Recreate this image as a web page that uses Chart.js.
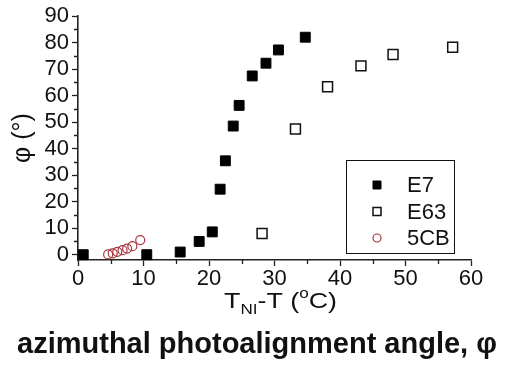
<!DOCTYPE html>
<html>
<head>
<meta charset="utf-8">
<script src="https://cdn.jsdelivr.net/npm/chart.js@4.4.1/dist/chart.umd.min.js"></script>
<style>
  html, body { margin: 0; padding: 0; background: #fff; }
  canvas { display: block; }
</style>
</head>
<body>
<canvas id="phiChart" width="510" height="372"></canvas>
<script>
	// data
	const e7X  = [0.8, 10.5, 15.6, 18.5, 20.5, 21.7, 22.5, 23.7, 24.6, 26.6, 28.7, 30.6, 34.7];
	const e7Y  = [0, 0, 1, 5, 8.6, 24.7, 35.4, 48.5, 56.3, 67.4, 72.2, 77.2, 82];
	const e63X = [28.1, 33.2, 38.1, 43.2, 48.1, 57.2];
	const e63Y = [8, 47.4, 63.3, 71.2, 75.5, 78.2];
	const cbX  = [4.6, 5.3, 6.0, 6.8, 7.5, 8.3, 9.5];
	const cbY  = [0.1, 0.5, 1.1, 1.7, 2.3, 3.2, 5.5];
	const seriesNames = ['E7', 'E63', '5CB'];
	const xTicks = [0, 10, 20, 30, 40, 50, 60];
	const yTicks = [0, 10, 20, 30, 40, 50, 60, 70, 80, 90];
	const xMinor = [5, 15, 25, 35, 45, 55];
	const yMinor = [5, 15, 25, 35, 45, 55, 65, 75, 85];
	const yTitle = 'φ (°)';
	const bottomTitle = 'azimuthal photoalignment angle, φ';

	const FONT = '"Liberation Sans", Arial, sans-serif';
	const toPts = (xs, ys) => xs.map((x, i) => ({x: x, y: ys[i]}));

	// minor ticks, x title with sub/superscript, bottom caption, boxed legend
	const extras = {
		id: 'extras',
		afterDraw(chart) {
			const c = chart.ctx, xs = chart.scales.x, ys = chart.scales.y;
			const area = chart.chartArea;
			c.save();
			c.strokeStyle = '#222';
			c.lineWidth = 1.3;
			c.beginPath();
			xMinor.forEach(v => {
				const px = Math.round(xs.getPixelForValue(v)) + 0.5;
				c.moveTo(px, area.bottom); c.lineTo(px, area.bottom + 4);
			});
			yMinor.forEach(v => {
				const py = Math.round(ys.getPixelForValue(v)) + 0.5;
				c.moveTo(area.left, py); c.lineTo(area.left - 4, py);
			});
			c.stroke();

			// x axis title: T_NI-T (oC), drawn a little wide like the original
			c.fillStyle = '#111';
			c.textBaseline = 'alphabetic';
			c.textAlign = 'left';
			c.save();
			c.translate(224, 308);
			c.scale(1.22, 1);
			let x = 0;
			const big = '22px ' + FONT, small = '14px ' + FONT;
			c.font = big;  c.fillText('T', x, 0); x += c.measureText('T').width;
			c.font = small; c.fillText('NI', x, 6); x += c.measureText('NI').width;
			c.font = big;  c.fillText('-T (', x, 0); x += c.measureText('-T (').width;
			c.font = small; c.fillText('o', x, -10); x += c.measureText('o').width;
			c.font = big;  c.fillText('C)', x, 0);
			c.restore();

			// caption
			c.font = 'bold 29px ' + FONT;
			c.textAlign = 'center';
			c.fillText(bottomTitle, 257, 353);

			// legend box
			c.lineWidth = 1;
			c.strokeStyle = '#111';
			c.strokeRect(346.5, 160.5, 108, 93);
			c.textAlign = 'left';
			c.textBaseline = 'middle';
			c.font = '22px ' + FONT;
			const rows = [185, 211.5, 238];
			chart.data.datasets.forEach((ds, i) => {
				const cx = 377, cy = rows[i];
				c.beginPath();
				if (ds.pointStyle === 'circle') {
					c.arc(cx, cy, 4, 0, Math.PI * 2);
				} else {
					c.rect(cx - 4, cy - 4, 8, 8);
				}
				if (ds.pointBackgroundColor !== 'rgba(0,0,0,0)') {
					c.fillStyle = ds.pointBackgroundColor; c.fill();
				}
				c.lineWidth = ds.pointBorderWidth;
				c.strokeStyle = ds.pointBorderColor;
				c.stroke();
				c.fillStyle = '#111';
				c.fillText(ds.label, 407, cy + 1);
			});
			c.restore();
		}
	};

	const ctx = document.getElementById('phiChart').getContext('2d');
	const chart = new Chart(ctx, {
		type: 'scatter',
		data: {
			datasets: [
				{
					label: seriesNames[0],
					data: toPts(e7X, e7Y),
					pointStyle: 'rect',
					pointRadius: 7,
					pointBackgroundColor: '#000',
					pointBorderColor: '#000',
					pointBorderWidth: 1,
					clip: false
				},
				{
					label: seriesNames[1],
					data: toPts(e63X, e63Y),
					pointStyle: 'rect',
					pointRadius: 7,
					pointBackgroundColor: 'rgba(0,0,0,0)',
					pointBorderColor: '#111',
					pointBorderWidth: 1.5,
					clip: false
				},
				{
					label: seriesNames[2],
					data: toPts(cbX, cbY),
					pointStyle: 'circle',
					pointRadius: 4.5,
					pointBackgroundColor: 'rgba(0,0,0,0)',
					pointBorderColor: '#a8343c',
					pointBorderWidth: 1.2,
					clip: false
				}
			]
		},
		options: {
			responsive: false,
			animation: false,
			layout: { padding: { left: 0, top: 16, right: 39, bottom: 0 } },
			plugins: {
				legend: { display: false },
				tooltip: { enabled: false }
			},
			scales: {
				x: {
					type: 'linear',
					min: 0, max: 60,
					afterBuildTicks: s => { s.ticks = xTicks.map(v => ({value: v})); },
					afterFit: s => { s.height = 112; },
					grid: { drawOnChartArea: false, tickLength: 6, tickWidth: 1.3, tickColor: '#222' },
					border: { display: true, color: '#222', width: 1.6 },
					ticks: { color: '#111', font: { family: FONT, size: 22 }, padding: 0, maxRotation: 0, autoSkip: false }
				},
				y: {
					type: 'linear',
					min: -2, max: 90,
					afterBuildTicks: s => { s.ticks = yTicks.map(v => ({value: v})); },
					afterFit: s => { s.width = 78; },
					grid: { drawOnChartArea: false, tickLength: 6, tickWidth: 1.3, tickColor: '#222' },
					border: { display: true, color: '#222', width: 1.6 },
					ticks: { color: '#111', font: { family: FONT, size: 22, lineHeight: 1 }, padding: 3, autoSkip: false },
					title: { display: true, text: yTitle, color: '#111', font: { family: FONT, size: 25 }, padding: { top: 8, bottom: 0 } }
				}
			}
		},
		plugins: [extras]
	});
</script>
</body>
</html>
